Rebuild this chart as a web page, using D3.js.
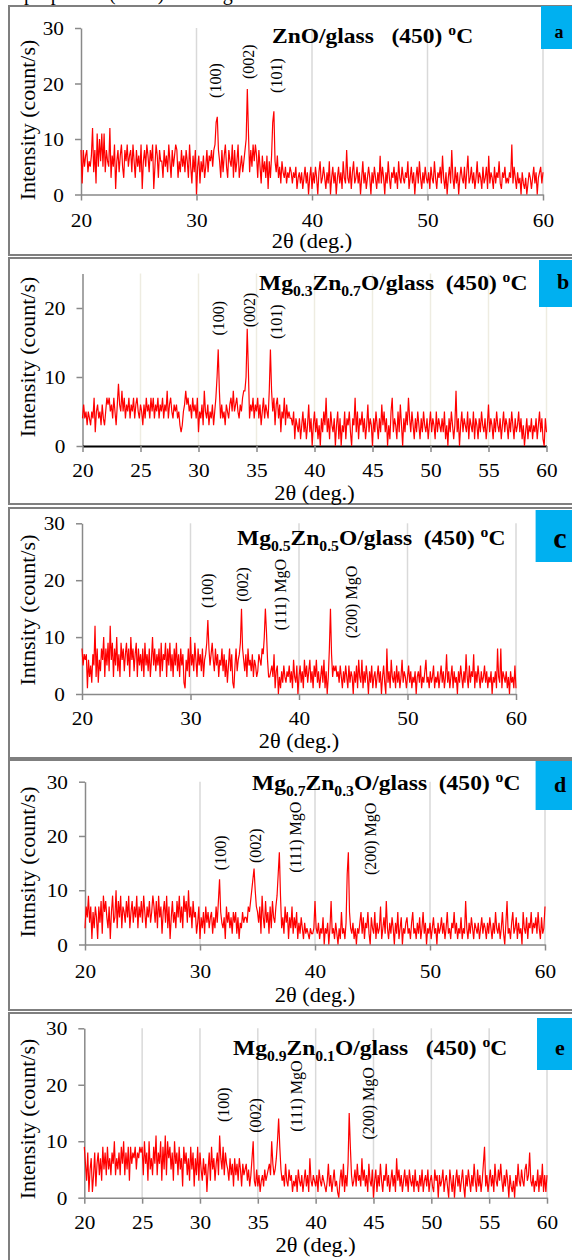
<!DOCTYPE html>
<html lang="en">
<head>
<meta charset="utf-8">
<title>XRD patterns</title>
<script src="https://d3js.org/d3.v7.min.js"></script>
<style>
  body { margin: 0; background: #fff; }
  svg text { font-family: "Liberation Serif", "Times New Roman", serif; fill: #000; }
  .grid { stroke-width: 1.5; }
  .trace { fill: none; stroke: #ff0000; stroke-width: 1.2; }
</style>
</head>
<body>
<div id="chart"></div>
<script>
var W = 572, H = 1260;
var xStart = 20, xStep = 0.1;   // 2theta sampling of the scans

// intensities (count/s), one value per 0.1 deg from 20 to 60
var intA = [
  8,2,8,5,7,8,4,6,5,7, 12,4,8,2,11,5,10,6,11,5, 11,4,8,6,5,12,3,7,5,9, 1,6,8,4,7,9,5,3,8,6,
  9,5,7,8,4,9,6,3,8,5, 7,4,9,1,6,8,5,9,7,4, 8,6,9,1,5,9,7,3,8,6, 6,3,8,5,7,4,9,6,3,8,
  5,7,9,8,3,6,4,8,5,7, 4,8,6,3,9,5,2,7,4,8, 0,5,7,2,6,4,7,3,5,8, 4,7,6,8,5,8,9,13,14,8,
  6,3,8,4,7,9,5,3,8,6, 5,9,3,8,4,6,9,3,5,7, 4,6,8,10,19,11,4,8,5,9, 6,9,7,3,8,5,2,7,4,6,
  3,7,1,6,3,7,13,15,6,4, 7,3,5,2,6,4,3,5,2,4, 3,5,4,2,4,3,5,1,3,4, 2,4,1,3,5,2,4,0,3,5,
  1,4,2,5,3,0,4,6,2,3, 5,3,1,4,2,6,0,3,5,2, 4,0,3,5,2,4,1,6,3,2, 8,3,2,5,1,4,6,2,3,5,
  2,4,0,3,6,2,4,1,3,5, 3,0,4,2,5,3,1,4,2,7, 2,5,3,0,4,2,6,3,1,4, 3,5,2,4,1,6,3,2,5,3,
  2,4,3,6,1,3,5,2,4,0, 3,5,2,6,3,1,4,2,5,3, 2,4,1,5,3,2,6,3,1,4, 3,5,2,7,3,1,4,0,3,5,
  2,8,3,1,5,2,4,0,3,5, 3,2,5,1,4,7,2,3,5,2, 4,1,3,6,2,4,3,1,5,2, 3,5,1,7,2,4,3,1,5,2,
  4,3,6,2,1,4,3,5,2,3, 2,4,3,9,2,5,3,1,4,2, 3,0,4,2,1,3,0,2,4,3, 1,3,5,2,4,0,3,4,5,2,
  4
];
var intB = [
  4,6,4,5,3,5,4,3,5,4, 7,2,5,6,4,5,3,6,4,3, 5,7,6,7,5,6,4,7,5,3, 6,9,6,5,8,5,7,4,6,5,
  7,4,6,5,7,4,6,7,5,4, 6,5,3,6,4,7,5,6,4,7, 5,7,4,6,5,7,4,6,5,7, 4,6,5,8,4,6,7,5,4,6,
  5,6,4,5,3,2,3,5,6,8, 6,7,5,6,4,7,5,6,4,7, 2,5,4,6,3,8,5,4,6,3, 5,4,6,3,5,7,10,14,8,4,
  6,4,5,3,6,5,4,6,7,5, 8,5,6,7,5,4,6,5,7,8, 8,10,17,11,4,6,5,7,4,6, 5,7,4,6,3,5,7,4,6,5,
  4,8,14,8,5,7,3,6,7,4, 6,2,5,4,7,3,6,4,5,4, 4,3,5,1,4,3,2,4,1,3, 5,2,4,1,3,6,2,4,0,3,
  5,2,4,1,3,0,4,2,5,3, 7,2,4,1,5,3,2,4,0,3, 5,1,4,0,3,2,5,1,4,3, 5,2,0,4,3,7,2,5,1,4,
  3,5,2,4,1,3,6,2,4,3, 0,4,2,5,3,1,4,2,6,3, 5,2,4,0,3,1,5,7,2,4, 3,1,5,2,6,3,0,4,2,5,
  3,7,4,2,5,3,1,4,2,5, 3,1,4,2,5,3,2,4,1,3, 5,2,4,3,1,5,2,4,3,2, 4,2,5,1,3,0,4,2,5,3,
  1,3,8,2,4,0,3,5,2,4, 3,2,5,1,4,3,2,5,1,4, 3,1,4,2,5,3,2,4,1,3, 6,2,4,3,1,4,2,5,3,2,
  4,1,3,5,2,4,3,1,4,2, 5,3,1,4,2,3,5,2,4,1, 3,0,2,4,1,3,2,4,1,3, 2,4,1,3,5,2,4,1,0,4,
  2
];
var intC = [
  8,5,7,6,7,1,6,3,5,2, 7,5,12,3,8,2,6,4,8,6, 10,3,8,5,9,4,12,6,9,3, 8,5,10,4,7,3,9,6,8,4,
  7,9,5,8,3,10,6,8,4,7, 9,3,8,5,7,4,8,3,9,5, 7,4,8,3,6,10,5,8,4,7, 5,8,3,9,4,7,6,9,3,8,
  5,9,4,7,3,8,5,9,4,7, 3,8,5,7,2,1,6,4,8,3, 10,5,7,4,9,6,3,8,5,7, 4,8,3,6,7,9,13,8,5,7,
  9,6,4,8,5,7,3,6,5,8, 4,7,3,6,2,5,8,4,7,2, 1,5,8,4,6,7,9,15,8,6, 4,7,3,8,5,6,4,7,3,6,
  5,3,4,7,6,5,8,7,10,15, 11,6,3,3,4,5,3,7,1,4, 5,0,3,1,4,2,5,3,2,4, 3,5,2,4,1,6,3,2,5,0,
  3,5,2,4,1,6,3,5,2,4, 6,2,4,1,5,3,6,2,4,1, 3,5,2,6,1,4,0,3,8,15, 7,3,5,4,5,3,4,2,5,3,
  1,4,2,5,3,1,5,2,4,3, 0,4,2,5,1,6,3,2,6,1, 4,2,5,3,0,4,2,5,1,3, 4,1,3,5,2,4,0,3,5,2,
  0,8,2,4,1,6,3,2,4,1, 5,2,4,1,3,6,2,4,3,1, 3,5,2,4,1,3,2,4,0,3, 4,2,5,1,3,2,4,6,2,3,
  1,4,2,3,5,1,3,2,4,1, 3,5,2,4,1,3,7,2,4,1, 3,5,1,4,2,3,0,4,2,5, 3,1,4,2,7,3,1,5,2,4,
  3,7,1,4,2,5,3,1,4,2, 3,5,2,4,1,3,2,4,0,3, 2,4,1,8,3,2,8,1,4,3, 2,4,1,3,0,4,2,3,1,5,
  1
];
var intD = [
  3,7,5,9,4,7,1,6,3,7, 5,1,7,4,8,2,9,6,8,5, 3,7,1,6,9,4,5,10,3,8, 5,9,3,7,6,4,8,5,9,3,
  6,8,4,7,5,9,3,7,5,8, 4,9,6,3,7,5,8,4,6,9, 7,4,8,3,9,5,7,2,6,8, 4,9,3,7,1,5,8,4,6,3,
  8,5,9,4,7,3,9,6,8,4, 10,5,7,3,8,5,6,2,4,7, 1,5,3,6,2,7,4,6,3,5, 6,2,5,3,7,4,8,12,6,4,
  3,5,1,7,4,6,3,5,2,6, 4,6,2,5,1,4,3,6,4,5, 5,4,7,6,8,10,12,14,10,7, 6,4,7,2,9,5,3,8,4,6,
  2,7,3,8,5,4,7,9,13,17, 9,3,5,2,7,4,6,1,5,3, 7,2,5,3,6,1,4,2,5,3, 1,4,2,3,2,1,3,2,2,3,
  8,3,2,4,1,3,2,5,0,3, 2,4,0,3,8,2,3,1,4,2, 0,3,1,6,2,3,1,4,13,17, 6,3,2,4,1,3,0,3,2,4,
  6,2,5,1,4,3,6,2,0,5, 3,2,6,1,4,2,3,7,1,3, 5,2,8,3,1,4,2,5,3,0, 4,2,6,1,3,5,0,3,2,4,
  5,2,3,1,4,6,2,3,1,4, 2,5,1,3,6,2,4,0,3,2, 4,1,3,5,2,3,0,4,2,3, 5,2,4,1,3,6,2,3,1,4,
  3,6,2,4,1,3,2,5,1,3, 2,8,3,1,4,2,5,3,1,4, 3,2,4,1,3,5,2,4,3,1, 4,2,5,3,1,4,2,6,3,2,
  4,1,3,6,2,0,4,8,2,3, 1,4,6,2,3,5,1,4,2,3, 0,6,3,2,5,1,4,3,6,2, 4,3,5,2,6,3,1,5,2,3,
  7
];
var intE = [
  9,6,3,8,1,5,7,1,4,8, 2,6,8,4,7,3,9,5,8,4, 9,5,7,4,8,6,10,4,7,5, 8,4,9,6,10,4,8,5,9,3,
  9,6,8,7,9,5,8,7,9,8, 9,4,10,6,8,3,10,5,7,4, 9,6,11,4,8,6,10,3,9,5, 11,4,10,7,9,5,8,3,10,6,
  8,4,9,5,7,2,9,6,8,4, 7,3,9,5,8,2,7,4,9,3, 8,5,3,7,4,6,1,5,8,3, 9,5,7,3,6,8,4,11,7,5,
  9,4,8,6,5,3,7,4,6,2, 7,4,6,3,7,5,2,6,4,5, 6,3,5,2,4,7,10,3,2,5, 2,4,1,3,4,2,5,3,4,5,
  6,4,10,6,4,5,7,10,14,9, 5,3,4,2,6,3,2,5,3,4, 1,3,2,4,1,5,3,2,4,1, 3,5,2,4,1,7,3,2,4,3,
  2,4,1,5,3,2,4,3,2,1, 3,6,2,4,1,3,5,2,3,1, 0,3,5,2,6,1,4,2,6,15, 9,4,2,3,5,2,6,3,4,2,
  7,3,5,2,4,1,6,3,2,5, 0,3,5,1,4,2,6,3,1,4, 3,6,2,4,1,3,5,2,4,1, 7,3,5,2,4,1,3,5,2,4,
  1,5,3,2,4,1,5,2,3,1, 4,2,5,1,3,4,2,5,1,3, 4,2,1,5,3,4,0,4,2,3, 5,1,3,4,2,0,5,3,1,4,
  0,3,5,2,4,1,3,5,2,0, 4,2,5,3,1,4,2,6,3,1, 5,2,4,1,3,6,9,2,4,1, 3,5,2,4,1,6,3,2,5,3,
  6,3,1,4,2,5,3,0,4,2, 1,3,0,4,2,6,3,2,5,3, 2,5,6,3,4,8,3,2,4,1, 3,2,5,1,4,2,6,1,4,1,
  4
];

var panelLetters = ['a', 'b', 'c', 'd', 'e'];
var yTitles = ['Intensity (count/s)', 'Intensity (count/s)', 'Intnsity (count/s)',
               'Intnsity (count/s)', 'Intensity (count/s)'];
var yMaxes = [30, 25, 30, 30, 30];
var yTickVals = [[0, 10, 20, 30], [0, 10, 20], [0, 10, 20, 30], [0, 10, 20, 30], [0, 10, 20, 30]];
var xTicks10 = [20, 30, 40, 50, 60];
var xTicks5 = [20, 25, 30, 35, 40, 45, 50, 55, 60];
var xTitle = '2\u03b8 (deg.)';

// title pieces: [text, 'sub' | 'sup' | '']
var titleA = [['ZnO/glass\u00a0\u00a0\u00a0(450) ', ''], ['o', 'sup'], ['C', '']];
var titleB = [['Mg', ''], ['0.3', 'sub'], ['Zn', ''], ['0.7', 'sub'], ['O/glass\u00a0\u00a0(450) ', ''], ['o', 'sup'], ['C', '']];
var titleC = [['Mg', ''], ['0.5', 'sub'], ['Zn', ''], ['0.5', 'sub'], ['O/glass\u00a0\u00a0(450) ', ''], ['o', 'sup'], ['C', '']];
var titleD = [['Mg', ''], ['0.7', 'sub'], ['Zn', ''], ['0.3', 'sub'], ['O/glass\u00a0\u00a0(450) ', ''], ['o', 'sup'], ['C', '']];
var titleE = [['Mg', ''], ['0.9', 'sub'], ['Zn', ''], ['0.1', 'sub'], ['O/glass\u00a0\u00a0\u00a0(450) ', ''], ['o', 'sup'], ['C', '']];

// peak labels: text, 2theta where the label sits, intensity at its lower end
var peaksA = [['(100)', 31.6, 17.4], ['(002)', 34.5, 20.8], ['(101)', 36.9, 18.3]];
var peaksB = [['(100)', 31.7, 16.0], ['(002)', 34.4, 17.2], ['(101)', 36.7, 15.5]];
var peaksC = [['(100)', 31.6, 15.1], ['(002)', 34.8, 16.2], ['(111) MgO', 38.3, 11.2], ['(200) MgO', 44.8, 9.8]];
var peaksD = [['(100)', 31.8, 13.7], ['(002)', 34.8, 15.0], ['(111) MgO', 38.3, 13.2], ['(200) MgO', 44.8, 12.8]];
var peaksE = [['(100)', 32.0, 13.4], ['(002)', 34.8, 11.5], ['(111) MgO', 38.3, 11.7], ['(200) MgO', 44.6, 10.3]];

var intensities = [intA, intB, intC, intD, intE];
var titles = [titleA, titleB, titleC, titleD, titleE];
var peakLabels = [peaksA, peaksB, peaksC, peaksD, peaksE];

// page layout of each panel (pixels)
var layouts = [
  {top: 6, bottom: 255, x0: 81, x1: 543, yTop: 28, y0: 194.5, tickBase: 227, xtBase: 248, ytY: 120,
   titleX: 272, titleY: 43, boxX: 541, boxY: 6, boxH: 43, letX: 559, letY: 38, letSize: 18,
   grid: '#d9d9d9', xTicks: xTicks10, xAxis: '#898989', xAxisW: 1.5},
  {top: 258, bottom: 504, x0: 82.5, x1: 546.5, yTop: 273.5, y0: 446, tickBase: 477, xtBase: 500, ytY: 357,
   titleX: 259, titleY: 290, boxX: 539, boxY: 260, boxH: 47, letX: 563, letY: 289, letSize: 22,
   grid: '#eeece1', xTicks: xTicks5, xAxis: '#000', xAxisW: 2},
  {top: 508, bottom: 758, x0: 82, x1: 516, yTop: 523.3, y0: 694, tickBase: 725, xtBase: 748, ytY: 610,
   titleX: 237, titleY: 545, boxX: 535.6, boxY: 510, boxH: 52, letX: 560, letY: 548, letSize: 30,
   grid: '#d9d9d9', xTicks: xTicks10, xAxis: '#898989', xAxisW: 1.5},
  {top: 760, bottom: 1010, x0: 85, x1: 545, yTop: 781.7, y0: 944.5, tickBase: 978, xtBase: 1002, ytY: 862,
   titleX: 252, titleY: 790, boxX: 535.6, boxY: 761, boxH: 49, letX: 560, letY: 792, letSize: 22,
   grid: '#d9d9d9', xTicks: xTicks10, xAxis: '#898989', xAxisW: 1.5},
  {top: 1013, bottom: 1270, x0: 84.3, x1: 547, yTop: 1028.3, y0: 1197.7, tickBase: 1229, xtBase: 1252, ytY: 1119,
   titleX: 233, titleY: 1055, boxX: 537, boxY: 1018, boxH: 52, letX: 560, letY: 1055, letSize: 22,
   grid: '#d9d9d9', xTicks: xTicks5, xAxis: '#898989', xAxisW: 1.5}
];

var svg = d3.select('#chart').append('svg')
  .attr('width', W)
  .attr('height', H);

// clipped line of the page text above the figure (only its descenders show)
svg.append('text')
  .attr('x', 24).attr('y', 0)
  .style('font-size', '20px')
  .text('properties (XRD) investigation');

var sx = 1.12; // the scanned figure is a bit wider than it is tall

layouts.forEach(function (L, k) {
  var data = intensities[k];
  var x = d3.scaleLinear().domain([20, 60]).range([L.x0, L.x1]);
  var y = d3.scaleLinear().domain([0, yMaxes[k]]).range([L.y0, L.yTop]);
  var g = svg.append('g');

  // frame
  g.append('rect')
    .attr('x', 9).attr('y', L.top)
    .attr('width', W + 10).attr('height', L.bottom - L.top)
    .attr('fill', 'none').attr('stroke', '#7f7f7f').attr('stroke-width', 2);

  // vertical grid
  g.selectAll('line.grid')
    .data(L.xTicks.filter(function (d) { return d > 20; }))
    .enter().append('line')
    .attr('class', 'grid')
    .attr('x1', function (d) { return x(d); })
    .attr('x2', function (d) { return x(d); })
    .attr('y1', y(0)).attr('y2', y(yMaxes[k]))
    .attr('stroke', L.grid);

  // axes
  var xa = g.append('g')
    .attr('transform', 'translate(0,' + L.y0 + ')')
    .call(d3.axisBottom(x).tickValues(L.xTicks).tickSize(6).tickSizeOuter(0).tickFormat(d3.format('d')));
  xa.select('.domain').attr('stroke', L.xAxis).attr('stroke-width', L.xAxisW);
  xa.selectAll('.tick line').attr('stroke', '#898989').attr('stroke-width', 1.5);
  xa.selectAll('.tick text')
    .attr('y', 0).attr('dy', 0)
    .attr('transform', 'translate(0,' + (L.tickBase - L.y0) + ') scale(' + sx + ',1)')
    .style('font-size', '19px').style('fill', '#000');

  var ya = g.append('g')
    .attr('transform', 'translate(' + L.x0 + ',0)')
    .call(d3.axisLeft(y).tickValues(yTickVals[k]).tickSize(6).tickSizeOuter(0));
  ya.select('.domain').attr('stroke', '#898989').attr('stroke-width', 1.5);
  ya.selectAll('.tick line').attr('stroke', '#898989').attr('stroke-width', 1.5);
  ya.selectAll('.tick text')
    .attr('x', 0).attr('dy', '0.35em')
    .attr('transform', 'translate(-17,0) scale(' + sx + ',1)')
    .style('font-size', '19px').style('fill', '#000');
  if (k === 1) {
    xa.raise();
  }

  // scan
  var line = d3.line()
    .x(function (d, i) { return x(xStart + i * xStep); })
    .y(function (d) { return y(d); });
  g.append('path')
    .datum(data)
    .attr('class', 'trace')
    .attr('d', line);

  // peak labels
  g.selectAll('text.peak')
    .data(peakLabels[k])
    .enter().append('text')
    .attr('class', 'peak')
    .attr('transform', function (d) {
      return 'translate(' + x(d[1]) + ',' + y(d[2]) + ') rotate(-90)';
    })
    .attr('dy', '0.35em')
    .style('font-size', '16px')
    .text(function (d) { return d[0]; });

  // axis titles
  g.append('text')
    .attr('transform', 'translate(' + ((L.x0 + L.x1) / 2) + ',' + L.xtBase + ') scale(' + sx + ',1)')
    .attr('text-anchor', 'middle')
    .style('font-size', '20px')
    .text(xTitle);
  g.append('text')
    .attr('transform', 'translate(27,' + L.ytY + ') rotate(-90)')
    .attr('text-anchor', 'middle')
    .attr('dy', '0.35em')
    .style('font-size', '22px')
    .text(yTitles[k]);

  // panel title with sub/superscripts
  var t = g.append('text')
    .attr('transform', 'translate(' + L.titleX + ',' + L.titleY + ') scale(' + sx + ',1)')
    .style('font-size', '21px')
    .style('font-weight', 'bold');
  var shift = 0;
  titles[k].forEach(function (p) {
    var target = p[1] === 'sub' ? 6 : (p[1] === 'sup' ? -8 : 0);
    t.append('tspan')
      .attr('dy', target - shift)
      .style('font-size', p[1] ? '14px' : '21px')
      .text(p[0]);
    shift = target;
  });

  // letter badge
  g.append('rect')
    .attr('x', L.boxX).attr('y', L.boxY)
    .attr('width', W - L.boxX + 5).attr('height', L.boxH)
    .attr('fill', '#00b0f0');
  g.append('text')
    .attr('x', L.letX).attr('y', L.letY)
    .attr('text-anchor', 'middle')
    .style('font-size', L.letSize + 'px')
    .style('font-weight', 'bold')
    .text(panelLetters[k]);
});
</script>
</body>
</html>
